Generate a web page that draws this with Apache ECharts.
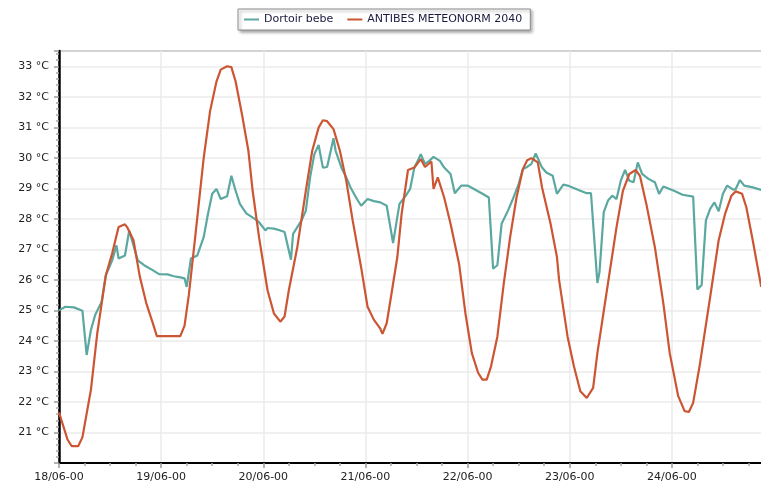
<!DOCTYPE html>
<html>
<head>
<meta charset="utf-8">
<title>Dortoir bebe / ANTIBES METEONORM 2040</title>
<script src="https://cdn.jsdelivr.net/npm/echarts@6/dist/echarts.min.js"></script>
<style>
  html, body { margin: 0; padding: 0; background: #ffffff; }
  #chart { width: 761px; height: 486px; }
</style>
</head>
<body>
<div id="chart"></div>
<script>
// Hours elapsed since 18/06 00:00 and day tick labels
const dayLabels = ['18/06-00', '19/06-00', '20/06-00', '21/06-00', '22/06-00', '23/06-00', '24/06-00', '25/06-00'];

// Indoor temperature, "Dortoir bebe" (°C)
const dortoirHours = [
  0, 1.5, 3.5, 5.5, 6.5, 7.5, 8.5, 10, 11, 12.5, 13.5, 14, 15.5, 16.5, 17.5, 18.5, 20, 22, 23.5, 25.5, 27, 28.5, 29.5, 30,
  31, 32.5, 34, 35, 36, 37, 38, 39.5, 40.5, 41.5, 42.5, 44, 46, 47, 48.5, 49, 50.5, 52, 53, 54.5, 55, 57, 58, 59,
  60, 61, 62, 63, 64.5, 65, 66.5, 67.5, 68.5, 70, 71, 72.5, 74, 75.5, 77, 78.5, 80, 81.5, 82.5, 83.5, 84.5, 85,
  86, 87, 88, 89.5, 90.5, 92, 93, 94.5, 96, 97.5, 99.5, 101, 102, 103, 104, 105.5, 106.5, 108, 109, 110, 111, 112,
  113.5, 114.5, 116, 117, 118.5, 119.5, 122.5, 124, 125, 126.5, 127, 128, 129, 130, 131, 132, 133, 134, 135, 136,
  137, 138.5, 140, 141, 142, 144.5, 146.5, 149, 150, 151, 152, 153, 154, 155, 156, 157, 158.5, 159, 160, 161, 163, 165
];
const dortoirTemps = [
  25.0, 25.12, 25.1, 24.99, 23.54, 24.36, 24.85, 25.28, 26.15, 26.64, 27.13, 26.7, 26.8, 27.62, 27.13, 26.64, 26.48, 26.32, 26.19, 26.18, 26.12, 26.08, 26.05, 25.77,
  26.7, 26.8, 27.4, 28.16, 28.82, 28.98, 28.65, 28.74, 29.41, 28.92, 28.49, 28.18, 28.0, 27.89, 27.62, 27.7, 27.68, 27.62, 27.57, 26.66, 27.51, 27.95, 28.27, 29.36,
  30.12, 30.42, 29.68, 29.7, 30.64, 30.23, 29.63, 29.36, 29.03, 28.65, 28.43, 28.65, 28.58, 28.54, 28.43, 27.21, 28.49, 28.76, 28.98, 29.68, 29.96, 30.12,
  29.8, 29.9, 30.03, 29.9, 29.68, 29.47, 28.84, 29.09, 29.09, 28.98, 28.82, 28.7, 26.37, 26.48, 27.84, 28.27, 28.6, 29.14, 29.63, 29.7, 29.8, 30.14,
  29.68, 29.52, 29.41, 28.82, 29.12, 29.09, 28.92, 28.84, 28.84, 25.9, 26.26, 28.22, 28.6, 28.76, 28.65, 29.25, 29.6, 29.25, 29.2, 29.85,
  29.47, 29.31, 29.2, 28.82, 29.06, 28.92, 28.79, 28.73, 25.69, 25.83, 27.95, 28.33, 28.54, 28.25, 28.82, 29.09, 28.95, 28.98, 29.27, 29.09, 29.03, 28.95
];

// Outdoor temperature, "ANTIBES METEONORM 2040" (°C)
const antibesHours = [
  0, 2, 3, 4.5, 5.5, 7.5, 9, 11, 12.5, 14, 15.5, 16, 17.5, 19, 20.5, 22, 23, 28.5, 29.5, 30.5, 32, 34, 35.5, 37,
  38, 39.5, 40.5, 41.5, 43, 44.5, 45.5, 47, 49, 50.5, 52, 53, 54, 56, 58, 59.5, 61, 62, 63, 64.5, 66, 67.5, 69, 71,
  72.5, 74, 75.5, 76, 77, 78, 79.5, 80.5, 82, 83.5, 85, 86, 87.5, 88, 89, 90.5, 92, 94, 95.5, 97, 98.5, 99.5,
  100.5, 101.5, 103, 104.5, 106, 107.5, 109, 110, 111, 112.5, 113.5, 115.5, 117, 117.5, 119.5, 121, 122.5, 124, 125.5, 126.5,
  128.5, 131, 132.5, 134, 135.5, 136.5, 138, 140, 142, 143.5, 145.5, 147, 148, 149, 150.5, 153, 155, 156.5, 158, 159,
  160.5, 161.5, 163, 165
];
const antibesTemps = [
  21.66, 20.77, 20.55, 20.55, 20.84, 22.4, 24.26, 26.15, 26.87, 27.73, 27.82, 27.73, 27.3, 26.1, 25.24, 24.6, 24.16, 24.16, 24.5, 25.5, 27.4, 30.0, 31.53, 32.5,
  32.89, 33.0, 32.97, 32.5, 31.42, 30.23, 28.92, 27.4, 25.66, 24.9, 24.63, 24.8, 25.66, 27.08, 28.92, 30.23, 30.99, 31.23, 31.2, 30.94, 30.23, 29.25, 27.95, 26.4,
  25.12, 24.69, 24.4, 24.23, 24.58, 25.44, 26.75, 28.16, 29.6, 29.68, 29.96, 29.7, 29.88, 28.98, 29.36, 28.7, 27.84, 26.53, 24.9, 23.6, 22.95, 22.73,
  22.73, 23.16, 24.14, 25.88, 27.4, 28.7, 29.63, 29.92, 29.99, 29.85, 29.03, 27.84, 26.75, 26.0, 24.14, 23.16, 22.35, 22.13, 22.46, 23.6,
  25.44, 27.73, 28.92, 29.47, 29.6, 29.41, 28.49, 27.08, 25.23, 23.6, 22.19, 21.7, 21.67, 21.97, 23.16, 25.44, 27.3, 28.16, 28.76, 28.9,
  28.82, 28.38, 27.3, 25.77
];

const pair = (xs, ys) => xs.map((x, i) => [x, ys[i]]);

const FONT = 'DejaVu Sans';
const chart = echarts.init(document.getElementById('chart'), null, { renderer: 'canvas' });

chart.setOption({
  animation: false,
  backgroundColor: '#ffffff',
  textStyle: { fontFamily: FONT },
  legend: {
    top: 9,
    left: 238,
    padding: [5, 8, 5, 6],
    itemGap: 14,
    itemWidth: 15,
    itemHeight: 2,
    icon: 'rect',
    backgroundColor: '#ffffff',
    borderColor: '#8c8c8c',
    borderWidth: 1,
    shadowColor: 'rgba(0,0,0,0.35)',
    shadowBlur: 3,
    shadowOffsetX: 2,
    shadowOffsetY: 2,
    textStyle: { fontFamily: FONT, fontSize: 11, color: '#1a1a40' },
    data: ['Dortoir bebe', 'ANTIBES METEONORM 2040']
  },
  grid: {
    left: 59,
    right: -13,
    top: 51,
    bottom: 23,
    containLabel: false,
    outerBoundsMode: 'none',
    show: true,
    borderColor: '#8a8a8a',
    borderWidth: 2,
    backgroundColor: '#ffffff'
  },
  xAxis: {
    type: 'value',
    min: 0,
    max: 168,
    interval: 24,
    axisLine: { show: true, onZero: false, lineStyle: { color: '#000000', width: 2 } },
    axisTick: { show: true, length: 5, lineStyle: { color: '#9a9a9a', width: 1.5 } },
    minorTick: { show: true, splitNumber: 4, length: 3, lineStyle: { color: '#a8a8a8', width: 1.5 } },
    axisLabel: {
      margin: 9,
      fontSize: 11,
      color: '#222222',
      fontFamily: FONT,
      showMaxLabel: false,
      formatter: (v) => dayLabels[Math.round(v / 24)] || ''
    },
    splitLine: { show: true, lineStyle: { color: '#ebebeb', width: 1.5 } }
  },
  yAxis: {
    type: 'value',
    min: 20,
    max: 33.5,
    interval: 1,
    axisLine: { show: true, onZero: false, lineStyle: { color: '#000000', width: 2.5 } },
    axisTick: { show: true, length: 5, lineStyle: { color: '#9a9a9a', width: 1.5 } },
    minorTick: { show: true, splitNumber: 5, length: 3, lineStyle: { color: '#a8a8a8', width: 1.5 } },
    axisLabel: {
      margin: 10,
      fontSize: 11,
      color: '#222222',
      fontFamily: FONT,
      showMinLabel: false,
      formatter: (v) => (Number.isInteger(v) && v > 20) ? v + ' °C' : ''
    },
    splitLine: { show: true, lineStyle: { color: '#ebebeb', width: 1.5 } }
  },
  series: [
    {
      name: 'Dortoir bebe',
      type: 'line',
      data: pair(dortoirHours, dortoirTemps),
      showSymbol: false,
      symbol: 'none',
      smooth: false,
      color: '#5aa8a0',
      lineStyle: { color: '#5aa8a0', width: 2.2 },
      z: 2
    },
    {
      name: 'ANTIBES METEONORM 2040',
      type: 'line',
      data: pair(antibesHours, antibesTemps),
      showSymbol: false,
      symbol: 'none',
      smooth: false,
      color: '#cc5533',
      lineStyle: { color: '#cc5533', width: 2.2 },
      z: 3
    }
  ]
});
</script>
</body>
</html>
